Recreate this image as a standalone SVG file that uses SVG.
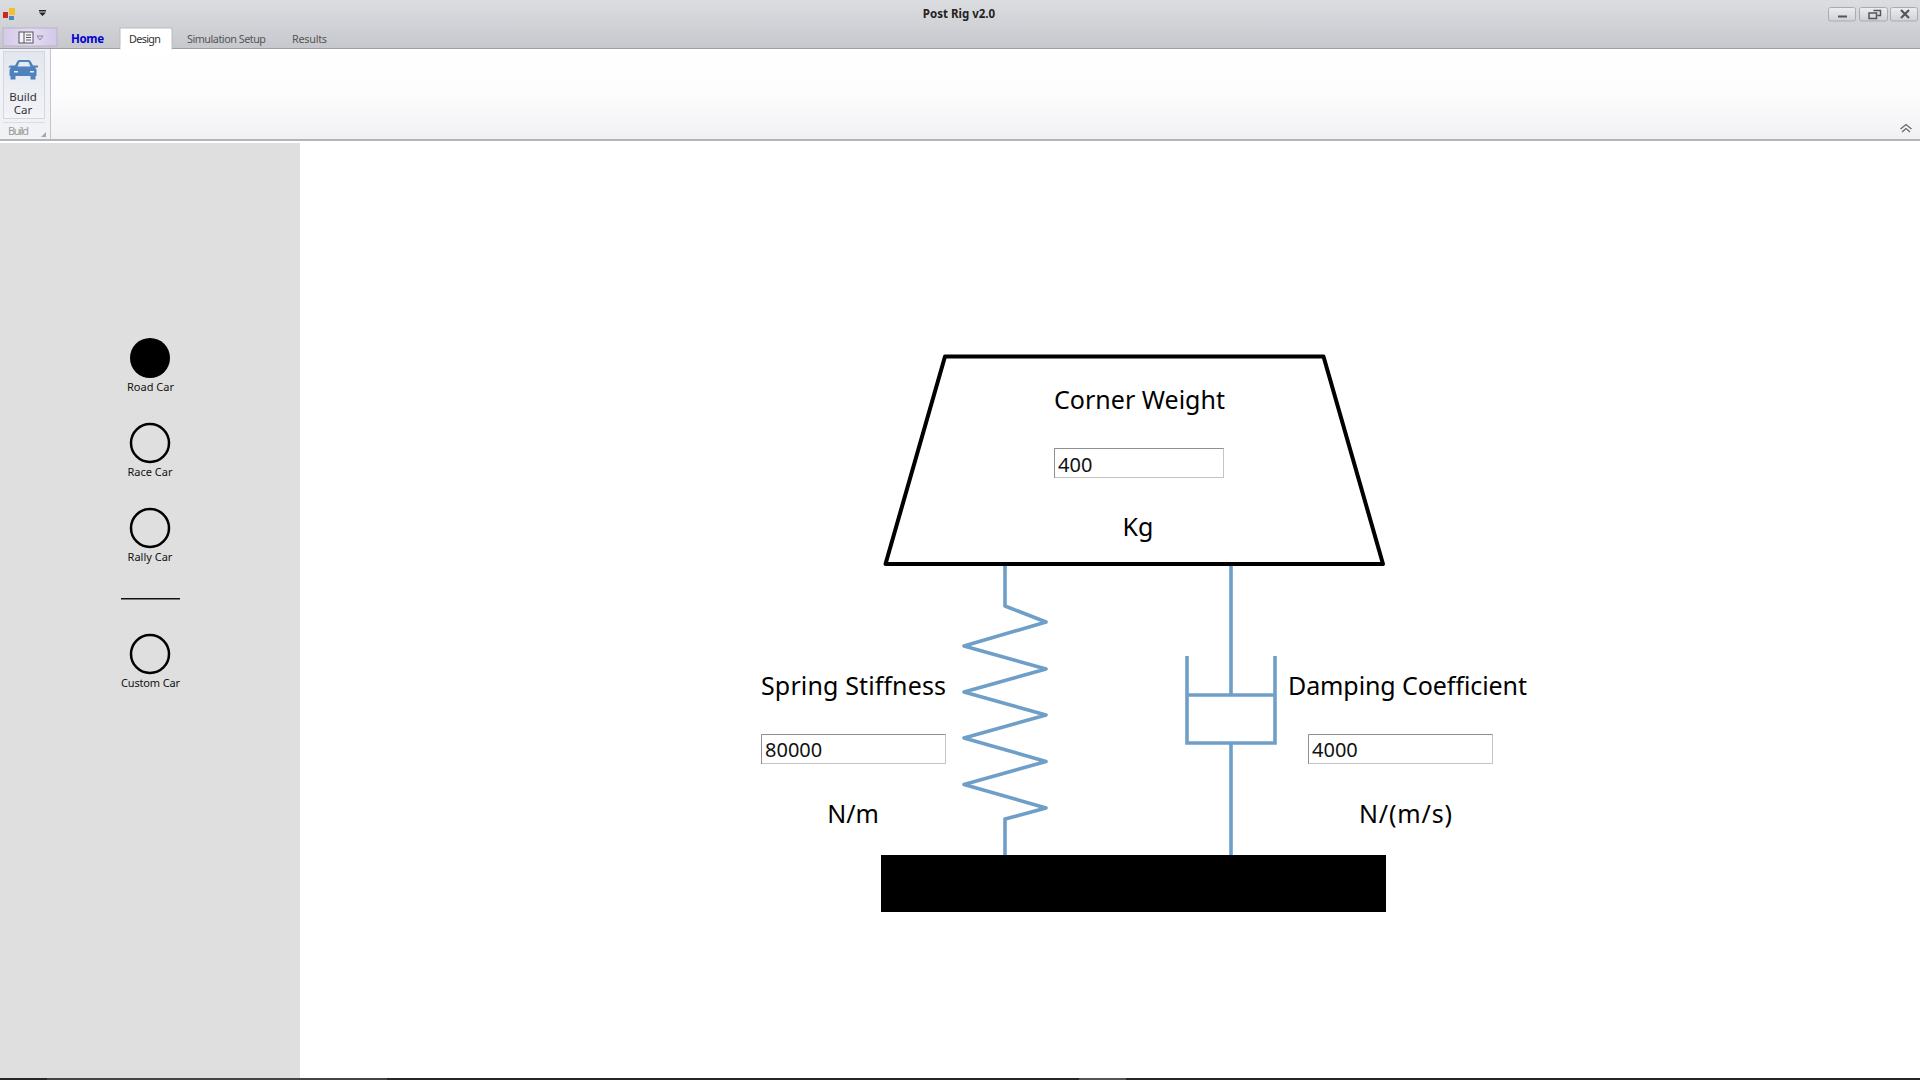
<svg xmlns="http://www.w3.org/2000/svg" width="1920" height="1080" viewBox="0 0 1920 1080">
<style>
text{font-family:"Noto Sans","Open Sans","DejaVu Sans",sans-serif;fill:#000}
.big{font-size:25px}
.val{font-size:20px;fill:#111}
.side{font-size:11px;text-anchor:middle;fill:#111}
.rib{font-size:10.800px;fill:#555}
.box{fill:#fff;stroke:#c4c4c4;stroke-width:1}
.boxe{fill:none;stroke:#8f8f8f;stroke-width:1}
.blue{fill:none;stroke:#6f9fc7;stroke-width:3.600;stroke-linejoin:round}
.ring{fill:none;stroke:#000;stroke-width:2.500}
.win{fill:url(#btn);stroke:#a9abb2;stroke-width:1}
</style>
<defs>
<linearGradient id="top" x1="0" y1="0" x2="0" y2="1"><stop offset="0" stop-color="#dcdde1"/><stop offset="1" stop-color="#c7c8cd"/></linearGradient>
<linearGradient id="pan" x1="0" y1="0" x2="0" y2="1"><stop offset="0" stop-color="#ffffff"/><stop offset="0.5" stop-color="#fdfdfe"/><stop offset="1" stop-color="#f1f1f3"/></linearGradient>
<linearGradient id="btn" x1="0" y1="0" x2="0" y2="1"><stop offset="0" stop-color="#eeeef1"/><stop offset="1" stop-color="#cfd0d6"/></linearGradient>
<linearGradient id="menu" x1="0" y1="0" x2="1" y2="0"><stop offset="0" stop-color="#d5c9ea"/><stop offset="0.5" stop-color="#e4dcf2"/><stop offset="1" stop-color="#d3c8e8"/></linearGradient>
<linearGradient id="build" x1="0" y1="0" x2="0" y2="1"><stop offset="0" stop-color="#e3e6ee"/><stop offset="1" stop-color="#f2f4f8"/></linearGradient>
</defs>
<rect width="1920" height="1080" fill="#fff"/>

<g id="ribbon">
<rect x="0" y="0" width="1920" height="48" fill="url(#top)"/>
<rect x="0" y="48" width="1920" height="1" fill="#9d9ea3"/>
<rect x="0" y="49" width="1920" height="90" fill="url(#pan)"/>
<rect x="0" y="139" width="1920" height="2" fill="#b4b5ba"/>
<rect x="0" y="49" width="50" height="90" fill="#f1f2f5"/>
<rect x="50" y="49" width="1" height="90" fill="#c5c6cb"/>
<g id="app-icon">
<rect x="3" y="12" width="5" height="6" fill="#c62a20"/>
<rect x="9" y="8" width="6" height="7" fill="#f0c030"/>
<rect x="9" y="16" width="5" height="4" fill="#4a86c8"/>
</g>
<path d="M39 10h7v1.500h-7zM39 12.500h7l-3.500 3.500z" fill="#222"/>
<g id="app-menu">
<rect x="3" y="28" width="54" height="18" fill="url(#menu)" stroke="#b9b4c8"/>
<rect x="19" y="32" width="14" height="11" fill="#f4f2f8" stroke="#555"/>
<path d="M24 32v11M26 35h5M26 37.500h5M26 40h5" fill="none" stroke="#555"/>
<path d="M37 36h6l-3 4z" fill="none" stroke="#8a8a9a"/>
</g>
<text x="71" y="43" style="font-size:11.500px;font-weight:700;fill:#0000d0" textLength="33">Home</text>
<g id="tab-design">
<rect x="120" y="28" width="52" height="21" fill="#fff" stroke="#b9babf" stroke-width="1"/>
<rect x="120.500" y="47" width="51" height="3" fill="#fff"/>
<text x="129" y="43" style="font-size:10.800px;fill:#333" textLength="32">Design</text>
</g>
<text x="187" y="43" class="rib" textLength="79">Simulation Setup</text>
<text x="292" y="43" class="rib" textLength="35">Results</text>
<text x="959" y="18" text-anchor="middle" style="font-size:11.500px;font-weight:700;fill:#222">Post Rig v2.0</text>
<g id="build-car">
<rect x="3.500" y="51.500" width="41" height="67" fill="url(#build)" stroke="#d3d6de"/>
<path d="M10 65.500h5l2.500-4.500q.6-1 2-1h9q1.400 0 2 1l2.500 4.500h5v2h-3l1.500 2v6.500h-1v3.500h-5v-3.500h-15v3.500h-5v-3.500h-1v-6.500l1.500-2h-3zM17.500 66.500h13l-2-4.500h-9z" fill="#4f81bd" fill-rule="evenodd"/>
<path d="M14 71h4v1.500h-4zM30 71h4v1.500h-4z" fill="#e8edf5"/>
<text x="23" y="101" text-anchor="middle" style="font-size:11.500px;fill:#333">Build</text>
<text x="23" y="114" text-anchor="middle" style="font-size:11.500px;fill:#333">Car</text>
<rect x="3" y="122" width="42" height="1" fill="#dcdde2"/>
<text x="8" y="135" style="font-size:11px;fill:#9a9a9a" textLength="21">Build</text>
<path d="M46 132v5h-5z" fill="#a5a6aa"/>
</g>
<g id="window-buttons">
<rect x="1828.500" y="7.500" width="27" height="13.500" rx="2" class="win"/>
<rect x="1859.500" y="7.500" width="28" height="13.500" rx="2" class="win"/>
<rect x="1890.500" y="7.500" width="27" height="13.500" rx="2" class="win"/>
<rect x="1838" y="15.500" width="9" height="2" fill="#555"/>
<path d="M1873.500 10.500h7v5h-3M1869 13h7.500v5.500h-7.500z" fill="none" stroke="#555" stroke-width="1.500"/>
<path d="M1901 10l8 8M1909 10l-8 8" stroke="#555" stroke-width="2.200" fill="none"/>
</g>
<path d="M1900.500 129l5.500-4.500 5.500 4.500M1902 132l4-3.500 4 3.500" fill="none" stroke="#666" stroke-width="1.300"/>
</g>

<g id="sidebar">
<rect x="0" y="143" width="300" height="935" fill="#dfdfdf"/>
<g id="road-car"><circle cx="150" cy="358" r="20" fill="#000"/><text x="150.500" y="391" class="side">Road Car</text></g>
<g id="race-car"><circle cx="150" cy="443" r="19" class="ring"/><text x="150" y="476" class="side">Race Car</text></g>
<g id="rally-car"><circle cx="150" cy="528" r="19" class="ring"/><text x="150" y="561" class="side">Rally Car</text></g>
<rect x="121" y="598" width="59" height="1.500" fill="#111"/>
<g id="custom-car"><circle cx="150" cy="654" r="19" class="ring"/><text x="150.500" y="687" class="side" textLength="59">Custom Car</text></g>
</g>

<g id="connectors">
<path id="spring" class="blue" d="M1005 565V606L1046 622L964 646L1046 669L964 692L1046 715L964 738L1046 761.500L964 784.500L1046 808L1005 819V855"/>
<path id="damper-rod" class="blue" d="M1231 565V695M1231 743V855"/>
<path id="damper-body" class="blue" d="M1187 656V743H1275V656M1187 695H1275" style="stroke-linejoin:miter"/>
</g>

<g id="mass">
<path d="M945 356.500H1323.500L1383 564H885.500Z" fill="#fff" stroke="#000" stroke-width="4" stroke-linejoin="round"/>
<text x="1054" y="409" class="big" textLength="171">Corner Weight</text>
<rect x="1054.500" y="448.500" width="169" height="29" class="box"/>
<path d="M1054.500 478V448.500H1223.500" class="boxe"/>
<text x="1058" y="472" class="val">400</text>
<text x="1138" y="536" class="big" text-anchor="middle">Kg</text>
</g>

<g id="spring-stiffness">
<text x="761" y="695" class="big" textLength="185">Spring Stiffness</text>
<rect x="761.500" y="734.500" width="184" height="29" class="box"/>
<path d="M761.500 764V734.500H945.500" class="boxe"/>
<text x="765" y="757" class="val">80000</text>
<text x="853" y="823" class="big" text-anchor="middle">N/m</text>
</g>

<g id="damping-coefficient">
<text x="1288" y="695" class="big" textLength="239">Damping Coefficient</text>
<rect x="1308.500" y="734.500" width="184" height="29" class="box"/>
<path d="M1308.500 764V734.500H1492.500" class="boxe"/>
<text x="1312" y="757" class="val">4000</text>
<text x="1359" y="823" class="big" textLength="93">N/(m/s)</text>
</g>

<rect id="base" x="881" y="855" width="505" height="57" fill="#000"/>
<g id="taskbar">
<rect x="0" y="1078" width="1920" height="2" fill="#262626"/>
<rect x="47" y="1078" width="340" height="2" fill="#444"/>
<rect x="1079" y="1078" width="47" height="2" fill="#555"/>
</g>
</svg>
